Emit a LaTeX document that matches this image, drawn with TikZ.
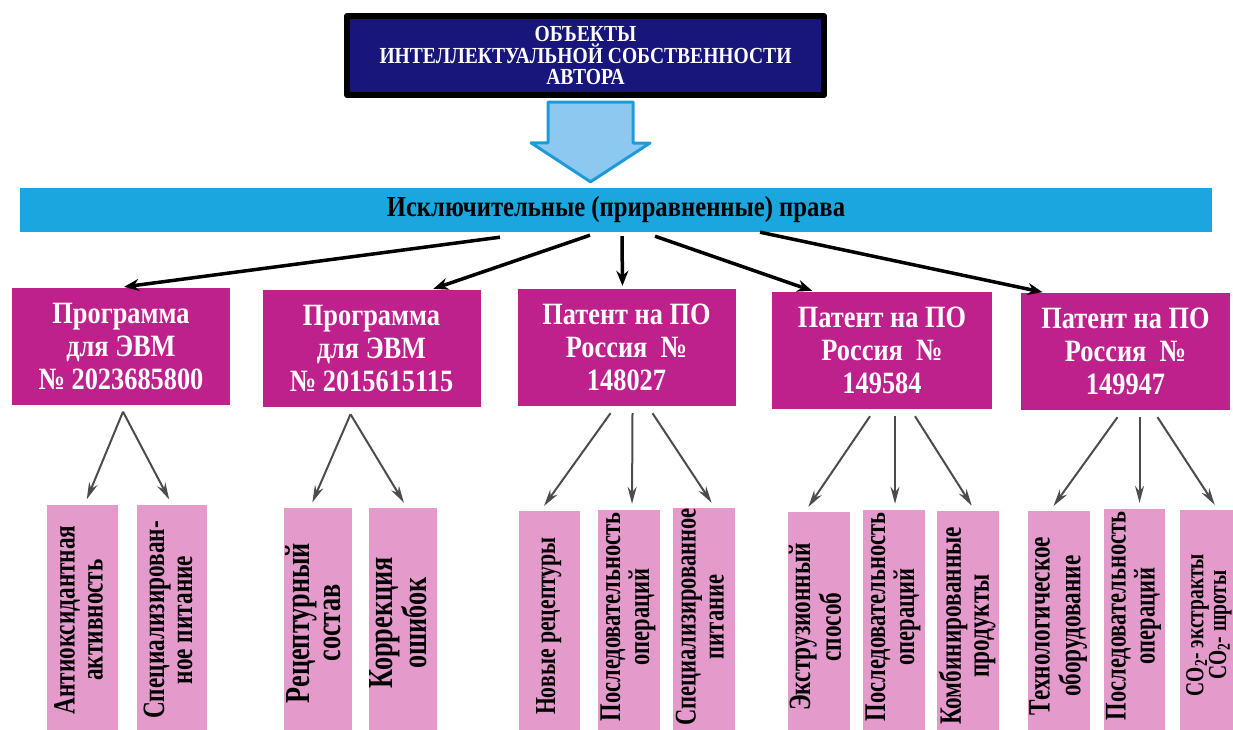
\documentclass[tikz,border=0pt]{standalone}
\usepackage{fontspec}
\setmainfont{Liberation Serif}[FakeStretch=0.85]
\newfontfamily\leaffont{Liberation Serif}[FakeStretch=0.75]
\usetikzlibrary{arrows.meta}
\definecolor{navybox}{RGB}{24,22,122}
\definecolor{arrowfill}{RGB}{140,200,240}
\definecolor{arrowline}{RGB}{30,155,215}
\definecolor{barblue}{RGB}{28,166,224}
\definecolor{progmagenta}{RGB}{190,32,140}
\definecolor{leafpink}{RGB}{228,155,204}
\newcommand{\vtext}[2][0pt]{\rotatebox{90}{\hspace{#1}\begin{tabular}{@{}c@{}}#2\end{tabular}}}

\begin{document}
\begin{tikzpicture}[x=1pt,y=-1pt,line join=round,>=Stealth]
	\tikzset{every node/.style={font=\bfseries,inner sep=0pt},
		progbox/.style={fill=progmagenta,text=white,minimum width=218pt,minimum height=117pt,align=center,font=\bfseries\fontsize{31}{33}\selectfont},
		leafbox/.style={fill=leafpink,minimum width=#1,minimum height=230pt,font=\leaffont\bfseries\fontsize{31}{28}\selectfont},
		leafbox/.default=62pt,
		longtext/.style={font=\leaffont\bfseries\fontsize{30}{28}\selectfont},
		mainarrow/.style={line width=3.5pt,-{Stealth[length=15pt,width=12pt]},shorten >=3pt},
		subarrow/.style={draw=black!70,line width=2pt,-{Stealth[length=17pt,width=9pt]},shorten >=6pt}}
	\useasboundingbox (0,0) rectangle (1233,729);
	% header
	\node[draw=black,line width=6pt,fill=navybox,text=white,minimum width=477pt,minimum height=79pt,align=center,font=\bfseries\fontsize{23}{21.5}\selectfont] (top) at (585.5,55.5) {ОБЪЕКТЫ\\ИНТЕЛЛЕКТУАЛЬНОЙ СОБСТВЕННОСТИ\\АВТОРА};
	\node[fill=barblue,minimum width=1192pt,minimum height=44pt,font=\bfseries\fontsize{29}{29}\selectfont] (bar) at (616,210) {Исключительные (приравненные) права};
	\draw[fill=arrowfill,draw=arrowline,line width=3pt] ([xshift=-37.5pt,yshift=-4pt]top.south) -- ++(85,0) -- ++(0,41) -- ++(17,0)
		-- ([xshift=-25.5pt,yshift=6pt]bar.north) -- ++(-59.5,-39) -- ++(17,0) -- cycle;
	% objects
	\node[progbox] (m1) at (121,346) {Программа\\для ЭВМ\\№ 2023685800};
	\node[progbox] (m2) at (371.5,348.5) {Программа\\для ЭВМ\\№ 2015615115};
	\node[progbox] (m3) at (626.5,347.5) {Патент на ПО\\Россия~~№\\148027};
	\node[progbox,minimum width=220pt] (m4) at (882,350.5) {Патент на ПО\\Россия~~№\\149584};
	\node[progbox,minimum width=209pt] (m5) at (1125.5,351.5) {Патент на ПО\\Россия~~№\\149947};
	\draw[mainarrow] ([xshift=-116pt,yshift=-5pt]bar.south) -- (m1.north);
	\draw[mainarrow] ([xshift=-26pt,yshift=-3pt]bar.south) -- ([xshift=59pt]m2.north);
	\draw[mainarrow] ([xshift=6pt,yshift=-4pt]bar.south) -- ([xshift=-4pt]m3.north);
	\draw[mainarrow] ([xshift=39pt,yshift=-4pt]bar.south) -- ([xshift=-67pt]m4.north);
	\draw[mainarrow] ([xshift=144pt]bar.south) -- ([xshift=-80pt]m5.north);
	% results
	\node[leafbox=71pt] (l1a) at (82.5,620) {\vtext{Антиоксидантная\\активность}};
	\node[leafbox=70pt] (l1b) at (172,620) {\vtext{Специализирован-\\ное питание}};
	\node[leafbox=68pt,font=\leaffont\bfseries\fontsize{35}{31}\selectfont] (l2a) at (318,623) {\vtext{Рецептурный\\состав}};
	\node[leafbox=68pt,font=\leaffont\bfseries\fontsize{35}{31}\selectfont] (l2b) at (403,623) {\vtext{Коррекция\\ошибок}};
	\node[leafbox=61pt,font=\leaffont\bfseries\fontsize{29}{28}\selectfont] (l3a) at (549.5,626) {\vtext{Новые рецептуры}};
	\node[leafbox,longtext] (l3b) at (629,625) {\vtext[16pt]{Последовательность\\операций}};
	\node[leafbox,longtext] (l3c) at (704,624) {\vtext[14pt]{Специализированное\\питание}};
	\node[leafbox] (l4a) at (819,627) {\vtext{Экструзионный\\способ}};
	\node[leafbox,longtext] (l4b) at (894,625) {\vtext[16pt]{Последовательность\\операций}};
	\node[leafbox] (l4c) at (968,626) {\vtext{Комбинированные\\продукты}};
	\node[leafbox] (l5a) at (1059,626) {\vtext{Технологическое\\оборудование}};
	\node[leafbox=61pt,longtext] (l5b) at (1134.5,624) {\vtext[16pt]{Последовательность\\операций}};
	\node[leafbox=58pt,font=\leaffont\bfseries\fontsize{26}{19}\selectfont] (l5c) at (1209,625) {\vtext{CO\textsubscript{2}- экстракты\\CO\textsubscript{2}- шроты}};
	\foreach \m/\dx/\l/\ex in {m1/2/l1a/2,m1/2/l1b/0,m2/-21/l2a/-8,m2/-21/l2b/4,
		m3/-16/l3a/-9,m3/6/l3b/3,m3/26/l3c/11,m4/-12/l4a/-14,m4/13/l4b/1,m4/33/l4c/7,
		m5/-8/l5a/-9,m5/14/l5b/5,m5/32/l5c/9}
	\draw[subarrow] ([xshift=\dx pt,yshift=-7pt]\m.south) -- ([xshift=\ex pt]\l.north);
\end{tikzpicture}
\end{document}
